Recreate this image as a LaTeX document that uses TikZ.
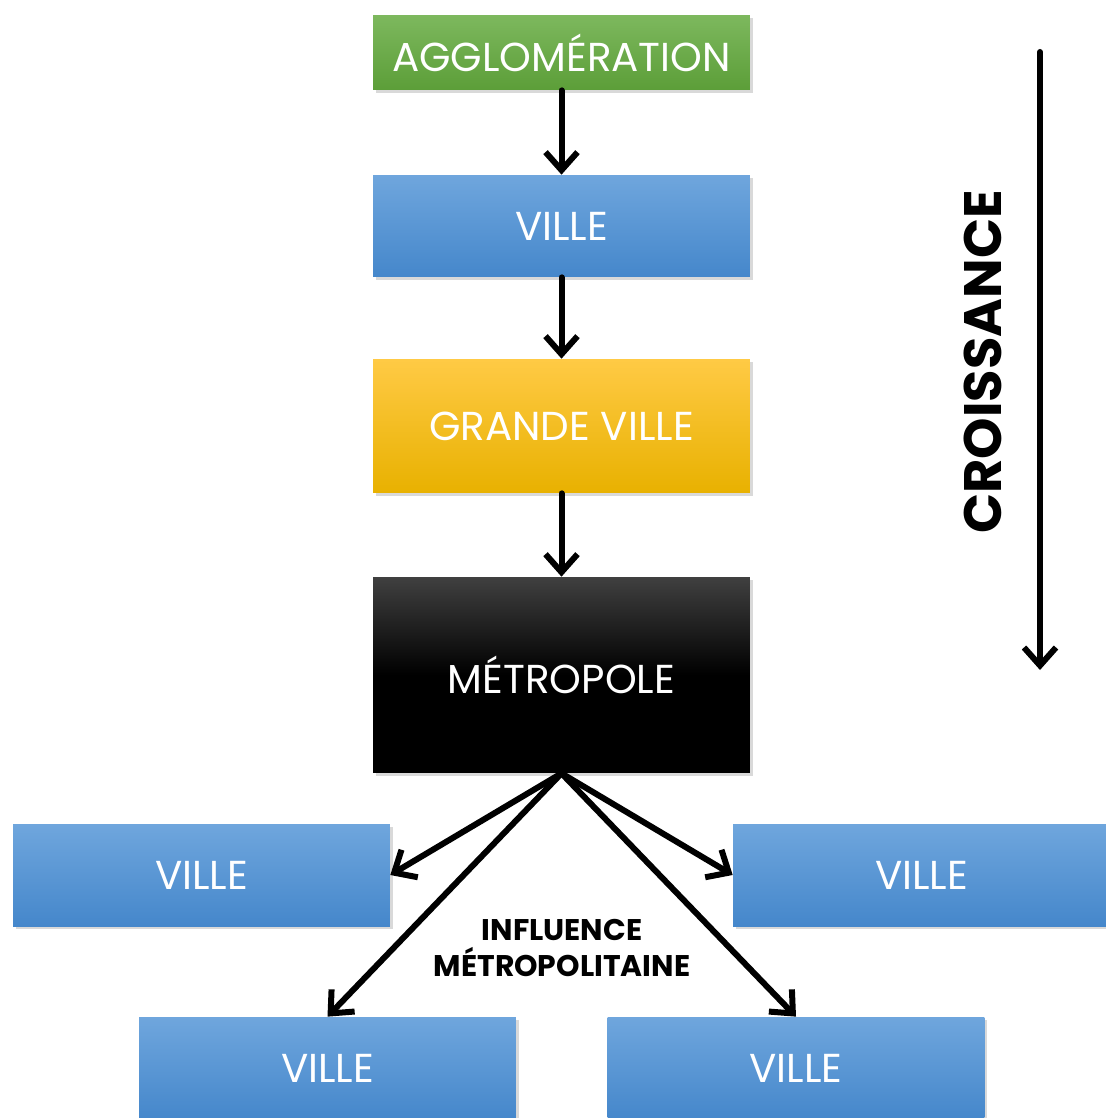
\documentclass[tikz,border=0pt]{standalone}
\usepackage{fontspec}
\setmainfont{Poppins}
\usetikzlibrary{arrows.meta,shadows}

\definecolor{vertHaut}{HTML}{7DB85E}
\definecolor{vertBas}{HTML}{5C9E38}
\definecolor{bleuHaut}{HTML}{6FA6DD}
\definecolor{bleuBas}{HTML}{4587CB}
\definecolor{jauneHaut}{HTML}{FFCA45}
\definecolor{jauneBas}{HTML}{E8B100}

\begin{document}
\begin{tikzpicture}[line cap=round,line join=round,x=0.02cm,y=-0.02cm,
  box/.style={minimum width=7.54cm,inner sep=0pt,text=white,
    font=\fontsize{23}{27}\selectfont,
    drop shadow={opacity=0.3,shadow xshift=1.5pt,shadow yshift=-1.5pt}},
  ville/.style={box,minimum height=2.04cm,top color=bleuHaut,bottom color=bleuBas},
  fleche/.style={-{Straight Barb[length=0.36cm,width=0.64cm]},line width=0.12cm}]

\useasboundingbox (0,0) rectangle (1105,1118);

% les etapes
\node[box,minimum height=1.5cm,top color=vertHaut,bottom color=vertBas] (agglo) at (561.5,52.5) {AGGLOMÉRATION};
\node[ville] (ville) at (561.5,226) {VILLE};
\node[box,minimum height=2.68cm,top color=jauneHaut,bottom color=jauneBas] (grande) at (561.5,426) {GRANDE VILLE};
\node[box,minimum height=3.92cm,top color=black!75,bottom color=black,middle color=black] (metro) at (561.5,675) {MÉTROPOLE};

% les villes sous influence
\node[ville] (gauche) at (201.5,875) {VILLE};
\node[ville] (droite) at (921.5,875) {VILLE};
\node[ville] (basg) at (327.5,1068) {VILLE};
\node[ville] (basd) at (796,1068) {VILLE};

\draw [fleche] (agglo.south) -- (ville.north);
\draw [fleche] (ville.south) -- (grande.north);
\draw [fleche] (grande.south) -- (metro.north);

\draw [fleche] (metro.south) -- (gauche.east);
\draw [fleche] (metro.south) -- (droite.west);
\draw [fleche] (metro.south) -- (basg.north);
\draw [fleche] (metro.south) -- (basd.north);

\node[font=\bfseries\fontsize{17}{20}\selectfont,align=center] (influence) at (562,948) {INFLUENCE\\MÉTROPOLITAINE};

% croissance
\coordinate (haut) at (1040,52);
\coordinate (bas) at (1040,670);
\draw [fleche] (haut) -- (bas);
\node[rotate=90,font=\bfseries\fontsize{30}{34}\selectfont] (croissance) at (983,362) {CROISSANCE};
\end{tikzpicture}
\end{document}
